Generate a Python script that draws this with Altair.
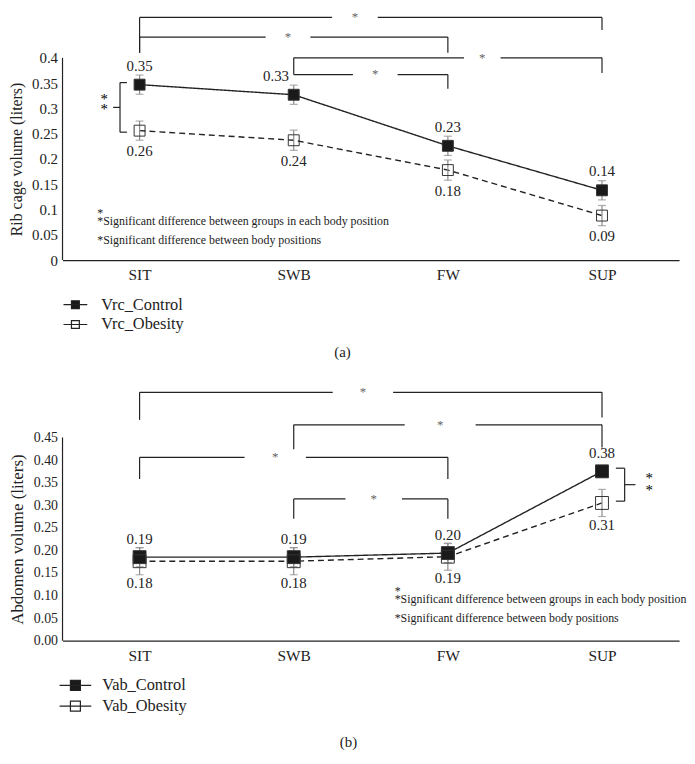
import altair as alt
import pandas as pd

FONT = "Liberation Serif"
INK = "#222222"

positions = ["SIT", "SWB", "FW", "SUP"]
x_pos = [0, 1, 2, 3]

# ---------- (a) Rib cage volume ----------
rc_series = ["Vrc_Control", "Vrc_Obesity"]
rc_control = [0.347, 0.327, 0.226, 0.138]
rc_control_err = [0.019, 0.019, 0.019, 0.019]
rc_control_labels = ["0.35", "0.33", "0.23", "0.14"]
rc_obesity = [0.256, 0.237, 0.178, 0.088]
rc_obesity_err = [0.019, 0.02, 0.02, 0.02]
rc_obesity_labels = ["0.26", "0.24", "0.18", "0.09"]
rc_control_label_nudge = [0, -0.115, 0, 0]
rc_ticks = [0, 0.05, 0.1, 0.15, 0.2, 0.25, 0.3, 0.35, 0.4]

# significance brackets between body positions
rc_br_from = [0, 0, 1, 1]
rc_br_to = [3, 2, 3, 2]
rc_br_level = [0.48, 0.441, 0.4, 0.367]
rc_br_left_end = [0.41, 0.41, 0.367, 0.367]
rc_br_right_end = [0.455, 0.41, 0.37, 0.339]
rc_br_gap_from = [1.249, 0.818, 2.105, 1.384]
rc_br_gap_to = [1.545, 1.108, 2.342, 1.674]

# ---------- (b) Abdomen volume ----------
ab_series = ["Vab_Control", "Vab_Obesity"]
ab_control = [0.185, 0.185, 0.194, 0.375]
ab_control_err = [0.021, 0.021, 0.021, 0.012]
ab_control_labels = ["0.19", "0.19", "0.20", "0.38"]
ab_obesity = [0.176, 0.176, 0.186, 0.305]
ab_obesity_err = [0.03, 0.03, 0.03, 0.03]
ab_obesity_labels = ["0.18", "0.18", "0.19", "0.31"]
ab_control_label_nudge = [0, 0, 0, 0]
ab_ticks = [0, 0.05, 0.1, 0.15, 0.2, 0.25, 0.3, 0.35, 0.4, 0.45]

ab_br_from = [0, 1, 0, 1]
ab_br_to = [3, 3, 2, 2]
ab_br_level = [0.55, 0.478, 0.406, 0.314]
ab_br_left_end = [0.489, 0.424, 0.358, 0.27]
ab_br_right_end = [0.494, 0.428, 0.358, 0.27]
ab_br_gap_from = [1.253, 1.72, 0.681, 1.336]
ab_br_gap_to = [1.645, 2.18, 1.079, 1.702]

note_groups = "*Significant difference between groups in each body position"
note_positions = "*Significant difference between body positions"


def series_frame(names, control, c_err, c_lab, c_nudge, obesity, o_err, o_lab):
    rows = []
    for i, p in enumerate(positions):
        rows.append(dict(series=names[0], dash="solid", position=p, x=x_pos[i], value=control[i],
                         lo=control[i] - c_err[i], hi=control[i] + c_err[i],
                         label=c_lab[i], lx=x_pos[i] + c_nudge[i]))
    for i, p in enumerate(positions):
        rows.append(dict(series=names[1], dash="dashed", position=p, x=x_pos[i], value=obesity[i],
                         lo=obesity[i] - o_err[i], hi=obesity[i] + o_err[i],
                         label=o_lab[i], lx=x_pos[i]))
    return pd.DataFrame(rows)


def bracket_frames(frm, to, level, left_end, right_end, gap_from, gap_to):
    segs, stars = [], []
    for a, b, lv, le, re, g0, g1 in zip(frm, to, level, left_end, right_end, gap_from, gap_to):
        segs += [
            dict(x=a, x2=g0, y=lv, y2=lv),
            dict(x=g1, x2=b, y=lv, y2=lv),
            dict(x=a, x2=a, y=lv, y2=le),
            dict(x=b, x2=b, y=lv, y2=re),
        ]
        stars.append(dict(x=(g0 + g1) / 2, y=lv, text="*"))
    return pd.DataFrame(segs), pd.DataFrame(stars)


def brace_frame(x_spine, x_tips, x_nub, y_top, y_bottom):
    ym = (y_top + y_bottom) / 2
    return pd.DataFrame([
        dict(x=x_spine, x2=x_spine, y=y_top, y2=y_bottom),
        dict(x=x_spine, x2=x_tips, y=y_top, y2=y_top),
        dict(x=x_spine, x2=x_tips, y=y_bottom, y2=y_bottom),
        dict(x=x_spine, x2=x_nub, y=ym, y2=ym),
    ])


def panel(df, names, ticks, y_max, width, height, y_title, y_title_size, y_format, tick_size,
          caption, cap_x, cap_y, segs, stars, brace, brace_stars, notes,
          legend, marker_size, px_per_unit, dy_c, dy_o):
    label_expr = "[" + ",".join(f"'{p}'" for p in positions) + "][datum.value]"
    x_axis = alt.Axis(values=x_pos, labelExpr=label_expr, ticks=False, grid=False,
                      domainColor=INK, domainWidth=1.2, labelFontSize=15.5, labelColor=INK,
                      labelFont=FONT, labelPadding=8, title=caption, titleX=cap_x, titleY=cap_y,
                      titleAlign="center", titleBaseline="middle", titleFontSize=15,
                      titleFont=FONT, titleFontWeight="normal", titleColor=INK)
    y_axis = alt.Axis(values=ticks, format=y_format, domain=False, ticks=False, grid=False,
                      labelFontSize=tick_size, labelColor=INK, labelFont=FONT, labelPadding=5,
                      title=y_title, titleFontSize=y_title_size, titleFont=FONT,
                      titleFontWeight="normal", titleColor=INK, titlePadding=7,
                      titleY=height - ticks[-1] / 2 * px_per_unit)
    xs = alt.Scale(domain=[-0.5, 3.5], nice=False, zero=False)
    ys = alt.Scale(domain=[0, y_max], nice=False, zero=True)

    def X(f):
        return alt.X(f"{f}:Q", scale=xs, axis=x_axis)

    def Y(f):
        return alt.Y(f"{f}:Q", scale=ys, axis=y_axis)

    base = alt.Chart(df)
    axis_line = alt.Chart(pd.DataFrame(dict(x=[-0.5], y=[0], y2=[ticks[-1]]))).mark_rule(
        color=INK, strokeWidth=1.2).encode(x=X("x"), y=Y("y"), y2="y2:Q")

    lines = base.mark_line(color=INK, strokeWidth=1.4).encode(
        x=X("x"), y=Y("value"),
        strokeDash=alt.StrokeDash("dash:N", scale=alt.Scale(domain=["solid", "dashed"],
                                                             range=[[1, 0], [6, 4]]),
                                  legend=None),
        order="x:Q")

    err = base.mark_rule(color="#8c8c8c", strokeWidth=1.2).encode(x=X("x"), y=Y("lo"), y2="hi:Q")
    caps = base.transform_fold(["lo", "hi"], as_=["end", "cap"]).mark_tick(
        orient="horizontal", color="#8c8c8c", size=8, thickness=1.2).encode(x=X("x"), y=Y("cap"))

    points = base.mark_point(shape="square", filled=True, size=marker_size, stroke="#333333",
                             strokeWidth=1, opacity=1).encode(
        x=X("x"), y=Y("value"),
        fill=alt.Fill("series:N", scale=alt.Scale(domain=names, range=["#1a1a1a", "transparent"]),
                      legend=legend))

    lab_c = base.transform_filter(alt.datum.series == names[0]).mark_text(
        dy=dy_c, fontSize=15, color=INK, font=FONT).encode(x=X("lx"), y=Y("value"), text="label:N")
    lab_o = base.transform_filter(alt.datum.series == names[1]).mark_text(
        dy=dy_o, fontSize=15, color=INK, font=FONT).encode(x=X("lx"), y=Y("value"), text="label:N")

    seg = alt.Chart(segs).mark_rule(color=INK, strokeWidth=1.2).encode(
        x=X("x"), x2="x2:Q", y=Y("y"), y2="y2:Q")
    star = alt.Chart(stars).mark_text(color="#666666", fontSize=13, baseline="middle", font=FONT).encode(
        x=X("x"), y=Y("y"), text="text:N")
    br = alt.Chart(brace).mark_rule(color=INK, strokeWidth=1.2).encode(
        x=X("x"), x2="x2:Q", y=Y("y"), y2="y2:Q")
    br_star = alt.Chart(brace_stars).mark_text(color="#000000", fontSize=15, baseline="middle",
                                               font=FONT).encode(
        x=X("x"), y=Y("y"), text="text:N")
    note = alt.Chart(notes).mark_text(color=INK, align="left", baseline="middle", fontSize=12,
                                      font=FONT).encode(
        x=X("x"), y=Y("y"), text="text:N")

    return alt.layer(axis_line, lines, err, caps, points, lab_c, lab_o, seg, star, br, br_star, note
                     ).properties(width=width, height=height)


rc_df = series_frame(rc_series, rc_control, rc_control_err, rc_control_labels, rc_control_label_nudge,
                     rc_obesity, rc_obesity_err, rc_obesity_labels)
ab_df = series_frame(ab_series, ab_control, ab_control_err, ab_control_labels, ab_control_label_nudge,
                     ab_obesity, ab_obesity_err, ab_obesity_labels)

rc_segs, rc_stars = bracket_frames(rc_br_from, rc_br_to, rc_br_level, rc_br_left_end,
                                   rc_br_right_end, rc_br_gap_from, rc_br_gap_to)
ab_segs, ab_stars = bracket_frames(ab_br_from, ab_br_to, ab_br_level, ab_br_left_end,
                                   ab_br_right_end, ab_br_gap_from, ab_br_gap_to)

rc_brace = brace_frame(-0.127, -0.082, -0.172, 0.351, 0.253)
rc_brace_stars = pd.DataFrame(dict(x=[-0.23, -0.23], y=[0.318, 0.298], text=["*", "*"]))
ab_brace = brace_frame(3.147, 3.09, 3.217, 0.382, 0.309)
ab_brace_stars = pd.DataFrame(dict(x=[3.307, 3.307], y=[0.36, 0.333], text=["*", "*"]))

rc_notes = pd.DataFrame(dict(x=[-0.275, -0.275, -0.275], y=[0.094, 0.0765, 0.039],
                             text=["*", note_groups, note_positions]))
ab_notes = pd.DataFrame(dict(x=[1.655, 1.655, 1.655], y=[0.111, 0.092, 0.05],
                             text=["*", note_groups, note_positions]))

top_h = 250
bot_h = 255
top_path = "M-1.6,0H1.6M-0.53,-0.53H0.53V0.53H-0.53Z"
bot_path = "M-2.13,0H2.13M-0.67,-0.67H0.67V0.67H-0.67Z"


def make_legend(path, x, y, offset, row_pad):
    return alt.Legend(title=None, orient="none", legendX=x, legendY=y,
                      symbolType=path, symbolSize=225, symbolStrokeWidth=1.2,
                      symbolStrokeColor=INK, labelFont=FONT, labelFontSize=16.5,
                      labelColor=INK, labelOffset=offset, rowPadding=row_pad, padding=0)


top = panel(rc_df, rc_series, rc_ticks, top_h / 510, 622, top_h, "Rib cage volume (liters)", 16, "~g", 15,
            "(a)", 282, 92, rc_segs, rc_stars, rc_brace, rc_brace_stars, rc_notes,
            make_legend(top_path, 4.5, top_h + 36.5, 17.5, 3), 121, 510, -19, 21)
bottom = panel(ab_df, ab_series, ab_ticks, bot_h / 455.6, 622, bot_h, "Abdomen volume (liters)", 17, ".2f", 14,
               "(b)", 288, 102, ab_segs, ab_stars, ab_brace, ab_brace_stars, ab_notes,
               make_legend(bot_path, 4.5, bot_h + 36.5, 18.5, 4), 169, 455.6, -18, 22)

chart = alt.vconcat(top, bottom, spacing=27).resolve_scale(
    x="independent", y="independent", fill="independent", strokeDash="independent"
).resolve_legend(fill="independent").properties(padding=0).configure(font=FONT).configure_view(stroke=None)

chart.save("out.html", embed_options={"renderer": "svg", "actions": False})
